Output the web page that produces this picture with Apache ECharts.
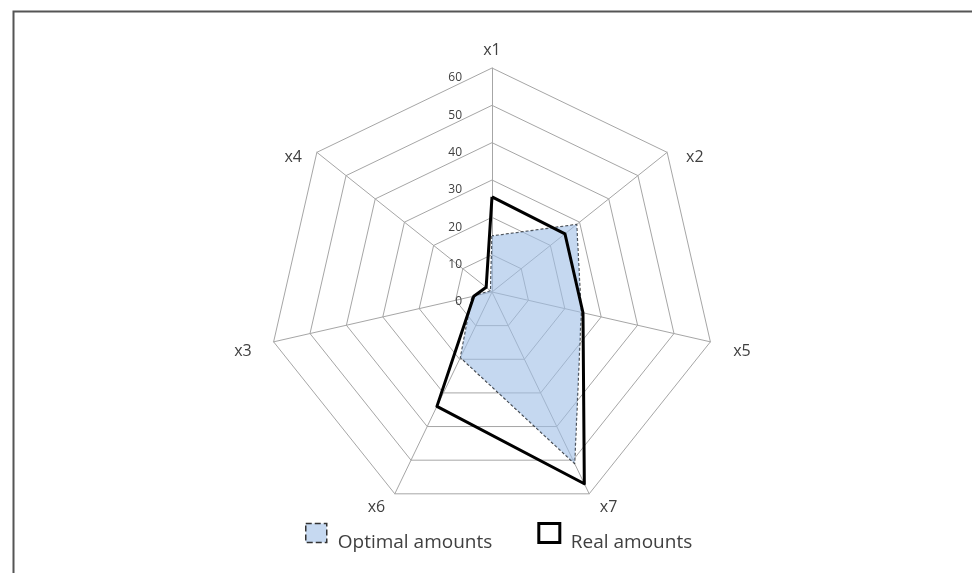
<!DOCTYPE html>
<html>
<head>
<meta charset="utf-8">
<script src="https://cdn.jsdelivr.net/npm/echarts@6/dist/echarts.min.js"></script>
<style>
html,body{margin:0;padding:0;background:#fff;}
#chart{width:972px;height:573px;}
</style>
</head>
<body>
<div id="chart"></div>
<script>
// Categories clockwise from top
const categories = ['x1', 'x2', 'x5', 'x7', 'x6', 'x3', 'x4'];
const optimalAmounts = [15, 29, 24.5, 51, 19.5, 5.5, 0.5];
const realAmounts = [25.5, 25, 25, 57, 34, 5, 2];
const axisMax = 60;
const seriesNames = ['Optimal amounts', 'Real amounts'];

// name placement per axis (style only)
const nameLayout = {
  x1: {gap: 10, align: 'center', va: 'bottom', pad: [0, 0, 0, 0]},
  x2: {gap: 5, align: 'left', va: 'top', pad: [0, 0, 0, 15]},
  x5: {gap: 6, align: 'left', va: 'top', pad: [0, 0, 0, 17]},
  x7: {gap: 6, align: 'left', va: 'top', pad: [0, 0, 0, 8]},
  x6: {gap: 6, align: 'right', va: 'top', pad: [0, 7, 0, 0]},
  x3: {gap: 6, align: 'right', va: 'top', pad: [0, 16, 0, 0]},
  x4: {gap: 5, align: 'right', va: 'top', pad: [0, 11, 0, 0]}
};

// ECharts lays indicators out counter-clockwise: keep the first, reverse the rest
function toCCW(arr) { return [arr[0]].concat(arr.slice(1).reverse()); }

const chart = echarts.init(document.getElementById('chart'), null, {renderer: 'canvas'});

const nameFont = {color: '#404040', fontFamily: 'Open Sans', fontSize: 16};

const indicators = toCCW(categories).map((c, i) => {
  const L = nameLayout[c];
  const ind = {
    name: c, min: 0, max: axisMax,
    nameGap: L.gap,
    nameTextStyle: Object.assign({}, nameFont, {align: L.align, verticalAlign: L.va, padding: L.pad})
  };
  if (i === 0) {
    ind.axisLabel = {show: true};
  }
  return ind;
});

const option = {
  backgroundColor: '#ffffff',
  animation: false,
  graphic: [{
    type: 'rect',
    left: 11, top: 9,
    shape: {width: 1000, height: 620},
    style: {fill: 'none', stroke: '#555555', lineWidth: 2},
    silent: true,
    z: -10
  }],
  legend: {
    left: 305,
    top: 522,
    padding: 0,
    itemGap: 45,
    itemWidth: 21,
    itemHeight: 19,
    formatter: function (name) { return '{t|' + name + '}'; },
    textStyle: {
      fontFamily: 'Open Sans', fontSize: 19, color: '#404040', width: 165,
      rich: {t: {fontFamily: 'Open Sans', fontSize: 19, color: '#404040', padding: [20, 0, 0, 6]}}
    },
    data: [
      {name: seriesNames[0], icon: 'rect',
        itemStyle: {color: '#c6d9f1', borderColor: '#333333', borderType: 'dashed', borderWidth: 1.5}},
      {name: seriesNames[1], icon: 'rect',
        itemStyle: {color: '#ffffff', borderColor: '#000000', borderWidth: 3}}
    ]
  },
  radar: {
    center: [492, 292],
    radius: 224,
    startAngle: 90,
    splitNumber: 6,
    shape: 'polygon',
    indicator: indicators,
    axisName: nameFont,
    nameGap: 12,
    axisLine: {lineStyle: {color: '#a6a6a6', width: 1}},
    splitLine: {lineStyle: {color: '#a6a6a6', width: 1}},
    splitArea: {show: false},
    axisTick: {show: false},
    axisLabel: {show: false, color: '#404040', fontFamily: 'Open Sans', fontSize: 12, margin: 30, verticalAlign: 'top', padding: [4, 0, 0, 0]}
  },
  series: [{
    type: 'radar',
    symbol: 'none',
    z: 2,
    data: [
      {
        name: seriesNames[0],
        value: toCCW(optimalAmounts),
        lineStyle: {color: '#333333', width: 1.3, type: [3, 2]},
        areaStyle: {color: '#9ebee6', opacity: 0.6},
        itemStyle: {color: '#c6d9f1'}
      },
      {
        name: seriesNames[1],
        value: toCCW(realAmounts),
        lineStyle: {color: '#000000', width: 3},
        itemStyle: {color: '#000000'}
      }
    ]
  }]
};
chart.setOption(option);
</script>
</body>
</html>
